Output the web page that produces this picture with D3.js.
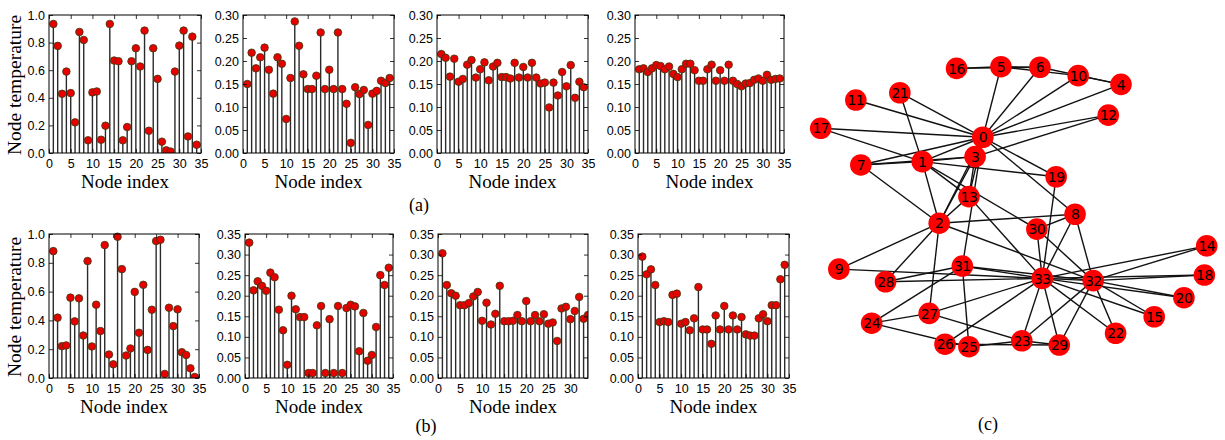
<!DOCTYPE html>
<html>
<head>
<meta charset="utf-8">
<script src="https://cdn.jsdelivr.net/npm/d3@7"></script>
<style>
    body { margin: 0; background: #fff; }
    svg { display: block; }
</style>
</head>
<body>
<script>

// node index shared by every stem panel
const nodeIndex = [1, 2, 3, 4, 5, 6, 7, 8, 9, 10, 11, 12, 13, 14, 15, 16, 17,
    18, 19, 20, 21, 22, 23, 24, 25, 26, 27, 28, 29, 30, 31, 32, 33, 34];

// row (a)
const tempA1 = [0.935, 0.776, 0.429, 0.590, 0.434, 0.222, 0.877, 0.819, 0.092, 0.439,
    0.446, 0.096, 0.198, 0.935, 0.670, 0.665, 0.092, 0.188, 0.665, 0.759, 0.627, 0.887,
    0.161, 0.759, 0.537, 0.082, 0.019, 0.010, 0.590, 0.778, 0.887, 0.120, 0.843, 0.060];
const tempA2 = [0.150, 0.218, 0.184, 0.208, 0.229, 0.181, 0.129, 0.208, 0.194, 0.074,
    0.163, 0.286, 0.233, 0.171, 0.139, 0.139, 0.168, 0.262, 0.139, 0.181, 0.139, 0.262,
    0.139, 0.107, 0.022, 0.143, 0.128, 0.137, 0.061, 0.129, 0.135, 0.157, 0.152, 0.163];
const tempA3 = [0.215, 0.207, 0.166, 0.205, 0.155, 0.161, 0.192, 0.202, 0.164, 0.182,
    0.197, 0.158, 0.188, 0.196, 0.165, 0.165, 0.162, 0.196, 0.164, 0.187, 0.164, 0.196,
    0.164, 0.151, 0.153, 0.099, 0.153, 0.125, 0.176, 0.145, 0.191, 0.120, 0.155, 0.143];
const tempA4 = [0.182, 0.184, 0.176, 0.184, 0.191, 0.189, 0.182, 0.188, 0.172, 0.165,
    0.182, 0.194, 0.194, 0.180, 0.157, 0.157, 0.182, 0.192, 0.157, 0.180, 0.157, 0.192,
    0.157, 0.150, 0.145, 0.151, 0.152, 0.159, 0.162, 0.157, 0.170, 0.159, 0.161, 0.162];

// row (b)
const tempB1 = [0.881, 0.419, 0.221, 0.226, 0.558, 0.393, 0.553, 0.295, 0.812, 0.219,
    0.509, 0.326, 0.923, 0.163, 0.095, 0.981, 0.756, 0.156, 0.205, 0.598, 0.314, 0.647,
    0.195, 0.474, 0.951, 0.960, 0.028, 0.488, 0.360, 0.477, 0.179, 0.160, 0.067, 0.007];
const tempB2 = [0.329, 0.213, 0.235, 0.224, 0.212, 0.256, 0.245, 0.166, 0.116, 0.032,
    0.200, 0.167, 0.148, 0.148, 0.012, 0.012, 0.128, 0.175, 0.012, 0.143, 0.012, 0.175,
    0.012, 0.170, 0.178, 0.174, 0.065, 0.158, 0.042, 0.056, 0.124, 0.250, 0.226, 0.268];
const tempB3 = [0.303, 0.226, 0.206, 0.200, 0.177, 0.177, 0.182, 0.198, 0.209, 0.139,
    0.183, 0.130, 0.156, 0.224, 0.138, 0.138, 0.139, 0.153, 0.138, 0.187, 0.138, 0.153,
    0.138, 0.155, 0.132, 0.135, 0.090, 0.169, 0.173, 0.143, 0.163, 0.197, 0.144, 0.153];
const tempB4 = [0.295, 0.252, 0.264, 0.226, 0.136, 0.138, 0.136, 0.202, 0.205, 0.132,
    0.136, 0.116, 0.145, 0.221, 0.118, 0.118, 0.083, 0.152, 0.118, 0.175, 0.118, 0.152,
    0.118, 0.148, 0.106, 0.103, 0.103, 0.145, 0.155, 0.138, 0.177, 0.177, 0.240, 0.275];

// tick labels
const ticksX35 = [0, 5, 10, 15, 20, 25, 30, 35];
const ticksX34 = [0, 5, 10, 15, 20, 25, 30];
const ticksY10 = [0.0, 0.2, 0.4, 0.6, 0.8, 1.0];
const ticksY30 = [0.00, 0.05, 0.10, 0.15, 0.20, 0.25, 0.30];
const ticksY35 = [0.00, 0.05, 0.10, 0.15, 0.20, 0.25, 0.30, 0.35];

// karate club graph: node layout (unit square) and edges
const nodeX = [0.420, 0.263, 0.307, 0.400, 0.778, 0.467, 0.568, 0.104, 0.659, 0.047,
    0.667, 0.091, 0.745, 0.384, 1.000, 0.864, 0.352, 0.000, 0.994, 0.610, 0.941, 0.205,
    0.764, 0.521, 0.132, 0.384, 0.322, 0.281, 0.168, 0.618, 0.560, 0.367, 0.706, 0.574];
const nodeY = [0.252, 0.339, 0.559, 0.321, 0.063, 0.000, 0.002, 0.351, 0.527, 0.723,
    0.032, 0.119, 0.173, 0.464, 0.640, 0.893, 0.006, 0.220, 0.744, 0.393, 0.825, 0.093,
    0.952, 0.979, 0.916, 1.000, 0.991, 0.881, 0.768, 0.994, 0.580, 0.712, 0.764, 0.756];
const edges = [
    [0, 1], [0, 2], [0, 3], [0, 4], [0, 5], [0, 6], [0, 7], [0, 8], [0, 10], [0, 11],
    [0, 12], [0, 13], [0, 17], [0, 19], [0, 21], [0, 31],
    [1, 2], [1, 3], [1, 7], [1, 13], [1, 17], [1, 19], [1, 21], [1, 30],
    [2, 3], [2, 7], [2, 8], [2, 9], [2, 13], [2, 27], [2, 28], [2, 32],
    [3, 7], [3, 12], [3, 13], [4, 6], [4, 10], [5, 6], [5, 10], [5, 16], [6, 16],
    [8, 30], [8, 32], [8, 33], [9, 33], [13, 33], [14, 32], [14, 33], [15, 32], [15, 33],
    [18, 32], [18, 33], [19, 33], [20, 32], [20, 33], [22, 32], [22, 33],
    [23, 25], [23, 27], [23, 29], [23, 32], [23, 33], [24, 25], [24, 27], [24, 31],
    [25, 31], [26, 29], [26, 33], [27, 33], [28, 31], [28, 33], [29, 32], [29, 33],
    [30, 32], [30, 33], [31, 32], [31, 33], [32, 33]
];

const svg = d3.select("body").append("svg")
    .attr("width", 1225)
    .attr("height", 440);

const tickFont = "'Liberation Sans', Arial, sans-serif";
const labelFont = "'Liberation Serif', 'Times New Roman', serif";

/**
 * drawStem()
 * @description draws one stem panel with matplotlib-like frame and inward ticks
 */
function drawStem(id, box, values, yMax, yTicks, xMax, xTicks, yLabel) {
    let x = d3.scaleLinear().domain([0, xMax]).range([box.x0, box.x1]);
    let y = d3.scaleLinear().domain([0, yMax]).range([box.y1, box.y0]);
    let fmt = yMax >= 1 ? d3.format(".1f") : d3.format(".2f");

    svg.append("clipPath")
        .attr("id", id)
        .append("rect")
            .attr("x", box.x0)
            .attr("y", box.y0 - 5)
            .attr("width", box.x1 - box.x0)
            .attr("height", box.y1 - box.y0 + 5);

    let g = svg.append("g");
    let marks = g.append("g").attr("clip-path", "url(#" + id + ")");

    marks.selectAll("line.stem")
        .data(values)
        .join("line")
            .attr("class", "stem")
            .attr("x1", (d, i) => x(nodeIndex[i]))
            .attr("x2", (d, i) => x(nodeIndex[i]))
            .attr("y1", y(0))
            .attr("y2", d => y(d))
            .style("stroke", "#2b2b2b")
            .style("stroke-width", 1.4);

    marks.selectAll("circle")
        .data(values)
        .join("circle")
            .attr("cx", (d, i) => x(nodeIndex[i]))
            .attr("cy", d => y(d))
            .attr("r", 3.8)
            .style("fill", "#e60000")
            .style("stroke", "#3a3a10")
            .style("stroke-width", 0.8);

    let axes = [
        [d3.axisBottom(x).tickValues(xTicks), box.y1, true],
        [d3.axisTop(x).tickValues(xTicks), box.y0, false]
    ];
    axes.forEach(a => {
        let ax = g.append("g")
            .attr("transform", "translate(0," + a[1] + ")")
            .call(a[0].tickSize(-4).tickPadding(6).tickFormat(a[2] ? d3.format("d") : ""));
        ax.select(".domain").remove();
    });

    let yAxes = [
        [d3.axisLeft(y).tickValues(yTicks), box.x0, true],
        [d3.axisRight(y).tickValues(yTicks), box.x1, false]
    ];
    yAxes.forEach(a => {
        let ax = g.append("g")
            .attr("transform", "translate(" + a[1] + ",0)")
            .call(a[0].tickSize(-4).tickPadding(4).tickFormat(a[2] ? fmt : ""));
        ax.select(".domain").remove();
    });

    g.selectAll(".tick line").style("stroke", "#000").style("stroke-width", 0.8);
    g.selectAll(".tick text")
        .style("font-family", tickFont)
        .style("font-size", "12.5px")
        .style("fill", "#000");

    g.append("rect")
        .attr("x", box.x0)
        .attr("y", box.y0)
        .attr("width", box.x1 - box.x0)
        .attr("height", box.y1 - box.y0)
        .style("fill", "none")
        .style("stroke", "#000")
        .style("stroke-width", 1);

    g.append("text")
        .attr("x", (box.x0 + box.x1) / 2)
        .attr("y", box.y1 + 35)
        .attr("text-anchor", "middle")
        .style("font-family", labelFont)
        .style("font-size", "19px")
        .text("Node index");

    if (yLabel) {
        g.append("text")
            .attr("transform", "translate(21," + ((box.y0 + box.y1) / 2 + 1) + ") rotate(-90)")
            .attr("text-anchor", "middle")
            .style("font-family", labelFont)
            .style("font-size", "19.5px")
            .text("Node temperature");
    }
}

const topRow = { y0: 15, y1: 153 };
const botRow = { y0: 234, y1: 378 };

drawStem("c1", { x0: 49, x1: 201, ...topRow }, tempA1, 1.0, ticksY10, 35, ticksX35, true);
drawStem("c2", { x0: 243, x1: 394, ...topRow }, tempA2, 0.30, ticksY30, 35, ticksX35, false);
drawStem("c3", { x0: 437, x1: 588, ...topRow }, tempA3, 0.30, ticksY30, 35, ticksX35, false);
drawStem("c4", { x0: 635, x1: 784, ...topRow }, tempA4, 0.30, ticksY30, 35, ticksX35, false);

drawStem("c5", { x0: 49, x1: 199, ...botRow }, tempB1, 1.0, ticksY10, 35, ticksX35, true);
drawStem("c6", { x0: 245, x1: 393, ...botRow }, tempB2, 0.35, ticksY35, 35, ticksX35, false);
drawStem("c7", { x0: 438, x1: 588, ...botRow }, tempB3, 0.35, ticksY35, 34, ticksX34, false);
drawStem("c8", { x0: 638, x1: 789, ...botRow }, tempB4, 0.35, ticksY35, 35, ticksX35, false);

/**
 * drawGraph()
 * @description draws the karate club network from the stored layout
 */
function drawGraph() {
    let gx = d3.scaleLinear().domain([0, 1]).range([820.7, 1206.7]);
    let gy = d3.scaleLinear().domain([0, 1]).range([66.7, 346.7]);
    let g = svg.append("g");

    g.selectAll("line")
        .data(edges)
        .join("line")
            .attr("x1", d => gx(nodeX[d[0]]))
            .attr("y1", d => gy(nodeY[d[0]]))
            .attr("x2", d => gx(nodeX[d[1]]))
            .attr("y2", d => gy(nodeY[d[1]]))
            .style("stroke", "#111")
            .style("stroke-width", 1.4);

    let nodes = g.selectAll("g.node")
        .data(nodeX)
        .join("g")
            .attr("class", "node")
            .attr("transform", (d, i) => "translate(" + gx(d) + "," + gy(nodeY[i]) + ")");

    nodes.append("circle")
        .attr("r", 10.8)
        .style("fill", "#ff0000");

    nodes.append("text")
        .attr("text-anchor", "middle")
        .attr("dy", "0.37em")
        .style("font-family", "'DejaVu Sans', sans-serif")
        .style("font-size", "14px")
        .style("letter-spacing", "-0.6px")
        .style("fill", "#000")
        .text((d, i) => i);
}

drawGraph();

// sub-figure captions
[["(a)", 419, 211], ["(b)", 426, 432], ["(c)", 988, 430]].forEach(c => {
    svg.append("text")
        .attr("x", c[1])
        .attr("y", c[2])
        .attr("text-anchor", "middle")
        .style("font-family", labelFont)
        .style("font-size", "18px")
        .text(c[0]);
});

</script>
</body>
</html>
